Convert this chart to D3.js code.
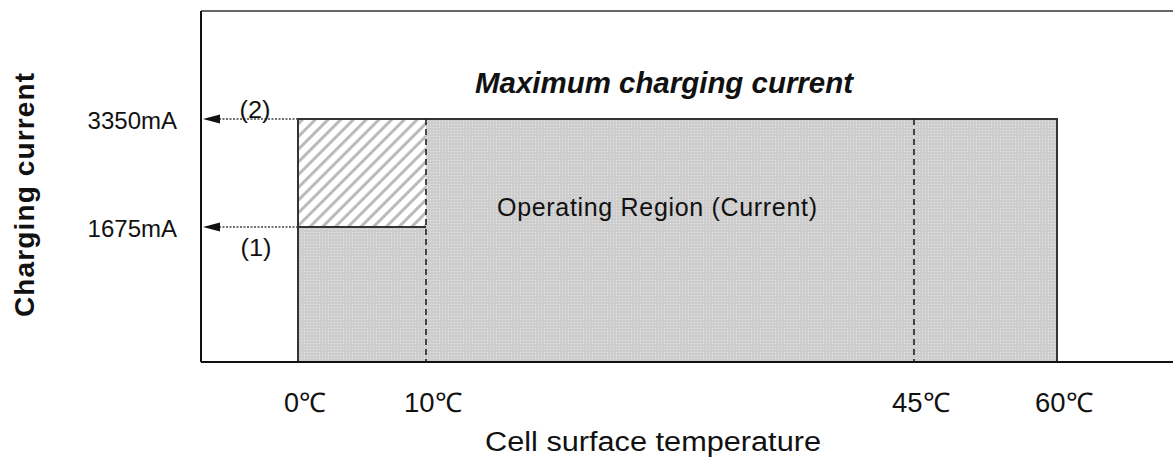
<!DOCTYPE html>
<html><head><meta charset="utf-8">
<script src="https://cdn.jsdelivr.net/npm/d3@7"></script>
<style>body{margin:0;background:#fff}svg{display:block}text{font-family:"Liberation Sans",Arial,sans-serif;fill:#111}</style>
</head><body><svg id="c" width="1173" height="461"></svg>
<script>
// ---- data ----
const temps = [0, 10, 45, 60];
const tempLabels = ["0℃", "10℃", "45℃", "60℃"];
const currents = [1675, 3350];
const currentLabels = ["1675mA", "3350mA"];
const markerLabels = ["(1)", "(2)"];
// max current by temperature segment
const regionStart = [0, 10];
const regionEnd = [10, 60];
const regionCurrent = [1675, 3350];
const hatchStart = [0];
const hatchEnd = [10];
const dashedTemps = [10, 45];

const svg = d3.select("#c");
const x = d3.scaleLinear().domain([-7.6, 0, 10, 45, 60, 69]).range([201, 298, 426, 914, 1057, 1173]);
const y = d3.scaleLinear().domain([0, 1675, 3350, 4500]).range([362, 227, 119, 11]);

const defs = svg.append("defs");
const dots = defs.append("pattern").attr("id", "dots").attr("patternUnits", "userSpaceOnUse").attr("width", 3).attr("height", 3);
dots.append("rect").attr("width", 3).attr("height", 3).attr("fill", "#cdcdcd");
dots.append("rect").attr("x", 1).attr("y", 1).attr("width", 1).attr("height", 1).attr("fill", "#e6e6e6");
const hatch = defs.append("pattern").attr("id", "hatch").attr("patternUnits", "userSpaceOnUse").attr("width", 9).attr("height", 9).attr("patternTransform", "rotate(45)");
hatch.append("rect").attr("width", 9).attr("height", 9).attr("fill", "#fff");
hatch.append("rect").attr("x", 0).attr("width", 3).attr("height", 9).attr("fill", "#bbbbbb");

// gray region (operating)
const area = d3.area().curve(d3.curveStepAfter).x(d => x(d[0])).y0(y(0)).y1(d => y(d[1]));
const pts = regionStart.map((s, i) => [s, regionCurrent[i]]);
pts.push([regionEnd[regionEnd.length - 1], regionCurrent[regionCurrent.length - 1]]);
svg.append("path").attr("d", area(pts)).attr("fill", "url(#dots)");

// hatched region
hatchStart.forEach((s, i) => {
  svg.append("rect").attr("x", x(s)).attr("y", y(3350)).attr("width", x(hatchEnd[i]) - x(s)).attr("height", y(1675) - y(3350)).attr("fill", "url(#hatch)");
});

// outline
svg.append("rect").attr("x", x(0)).attr("y", y(3350)).attr("width", x(60) - x(0)).attr("height", y(0) - y(3350))
  .attr("fill", "none").attr("stroke", "#333").attr("stroke-width", 2);
svg.append("line").attr("x1", x(0)).attr("x2", x(10)).attr("y1", y(1675)).attr("y2", y(1675)).attr("stroke", "#333").attr("stroke-width", 2);

// dashed verticals
svg.selectAll(".dv").data(dashedTemps).join("line")
  .attr("x1", d => x(d)).attr("x2", d => x(d)).attr("y1", y(3350)).attr("y2", y(0))
  .attr("stroke", "#222").attr("stroke-width", 1.6).attr("stroke-dasharray", "6,4");

// frame
svg.append("line").attr("x1", x(-7.6)).attr("x2", x(69)).attr("y1", y(4500)).attr("y2", y(4500)).attr("stroke", "#666").attr("stroke-width", 2);
svg.append("line").attr("x1", x(-7.6)).attr("x2", x(-7.6)).attr("y1", y(4500)).attr("y2", y(0)).attr("stroke", "#111").attr("stroke-width", 2);
svg.append("line").attr("x1", x(-7.6)).attr("x2", x(69)).attr("y1", y(0)).attr("y2", y(0)).attr("stroke", "#111").attr("stroke-width", 2);

// arrows
svg.selectAll(".arr").data(currents).join("line")
  .attr("x1", x(0)).attr("x2", 219).attr("y1", d => y(d)).attr("y2", d => y(d))
  .attr("stroke", "#444").attr("stroke-width", 1.5).attr("stroke-dasharray", "2,1.5");
svg.selectAll(".ah").data(currents).join("path")
  .attr("d", d => `M203,${y(d)}L220,${y(d) - 4.5}L220,${y(d) + 4.5}Z`).attr("fill", "#111");

// marker labels
svg.append("text").attr("x", 256).attr("y", y(1675) + 29).attr("text-anchor", "middle").attr("font-size", 23)
  .attr("textLength", 31).attr("lengthAdjust", "spacingAndGlyphs").text(markerLabels[0]);
svg.append("text").attr("x", 255).attr("y", y(3350) - 1).attr("text-anchor", "middle").attr("font-size", 23)
  .attr("textLength", 31).attr("lengthAdjust", "spacingAndGlyphs").text(markerLabels[1]);

// y tick labels
svg.selectAll(".yl").data(currents).join("text")
  .attr("x", 177).attr("y", d => y(d) + 10).attr("text-anchor", "end").attr("font-size", 24)
  .text((d, i) => currentLabels[i]);

// x tick labels
svg.selectAll(".xl").data(temps).join("text")
  .attr("x", d => x(d) + 7).attr("y", 412).attr("text-anchor", "middle").attr("font-size", 27)
  .attr("textLength", (d, i) => tempLabels[i].length > 2 ? 58 : 42).attr("lengthAdjust", "spacingAndGlyphs")
  .text((d, i) => tempLabels[i]);

// titles
svg.append("text").attr("x", 653).attr("y", 451).attr("text-anchor", "middle").attr("font-size", 27)
  .attr("textLength", 336).attr("lengthAdjust", "spacingAndGlyphs").text("Cell surface temperature");
svg.append("text").attr("transform", "translate(34,195) rotate(-90)").attr("text-anchor", "middle").attr("font-size", 28)
  .attr("font-weight", "bold").attr("textLength", 244).text("Charging current");
svg.append("text").attr("x", 664).attr("y", 93).attr("text-anchor", "middle").attr("font-size", 29)
  .attr("font-weight", "bold").attr("font-style", "italic").attr("textLength", 378).attr("lengthAdjust", "spacingAndGlyphs").text("Maximum charging current");
svg.append("text").attr("x", 657).attr("y", 216).attr("text-anchor", "middle").attr("font-size", 25)
  .attr("textLength", 320).text("Operating Region (Current)");
</script></body></html>
